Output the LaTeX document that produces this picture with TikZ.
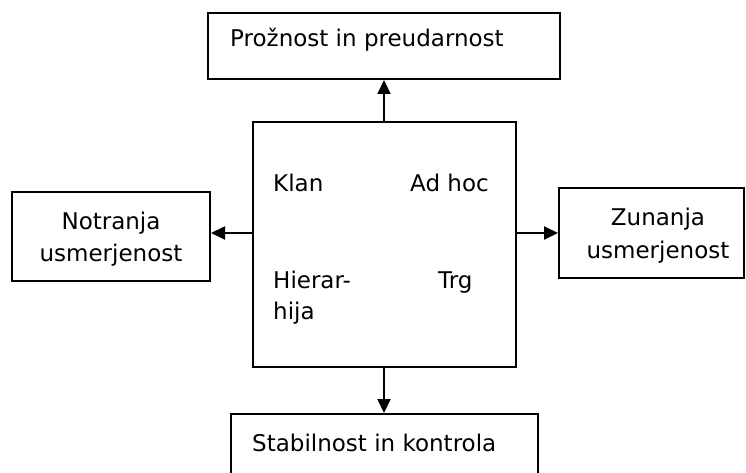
\documentclass[tikz,border=0pt]{standalone}
\usepackage{fontspec}
\setmainfont{DejaVu Sans}
\usetikzlibrary{positioning, arrows.meta}

\tikzset{
	box/.style = {draw, line width=2pt, inner sep=0pt},
	lbl/.style = {inner sep=0pt, anchor=base west, font=\fontsize{23}{27}\selectfont},
	clbl/.style = {inner sep=0pt, anchor=base, font=\fontsize{23}{27}\selectfont},
	arr/.style = {line width=2pt, -{Triangle[length=14pt, width=13pt]}}
}

\begin{document}
\begin{tikzpicture}[x=1pt, y=-1pt]
			\useasboundingbox (0,0) rectangle (746,473);
			\clip (0,0) rectangle (746,473);
			% boxes
			\node[box, minimum width=352, minimum height=66] (prozn) at (384,46) {};
			\node[box, minimum width=263, minimum height=245] (kultura) at (384,244.5) {};
			\node[box, minimum width=198, minimum height=89] (notr) at (111,236.5) {};
			\node[box, minimum width=185, minimum height=90] (zun) at (651.5,233) {};
			\node[box, minimum width=307, minimum height=66] (stab) at (384,447) {};
			% texts
			\node[lbl] (tprozn) at (230,47) {Prožnost in preudarnost};
			\node[lbl] (tstab) at (252,451) {Stabilnost in kontrola};
			\node[clbl] (tnotr1) at (111,229) {Notranja};
			\node[clbl] (tnotr2) at (111,261) {usmerjenost};
			\node[clbl] (tzun1) at (658,225) {Zunanja};
			\node[clbl] (tzun2) at (658,258) {usmerjenost};
			\node[lbl] (klan) at (273,191) {Klan};
			\node[lbl] (adhoc) at (410,191) {Ad hoc};
			\node[lbl] (hier1) at (273,288) {Hierar-};
			\node[lbl] (hier2) at (273,319) {hija};
			\node[lbl] (trg) at (438,288) {Trg};
			% arrows
			\draw[arr] (kultura.north -| prozn.south) -- (prozn.south);
			\draw[arr] (kultura.south -| stab.north) -- (stab.north);
			\draw[arr] (kultura.west |- zun.west) -- (notr.east |- zun.west);
			\draw[arr] (kultura.east |- zun.west) -- (zun.west);
		\end{tikzpicture}
\end{document}
